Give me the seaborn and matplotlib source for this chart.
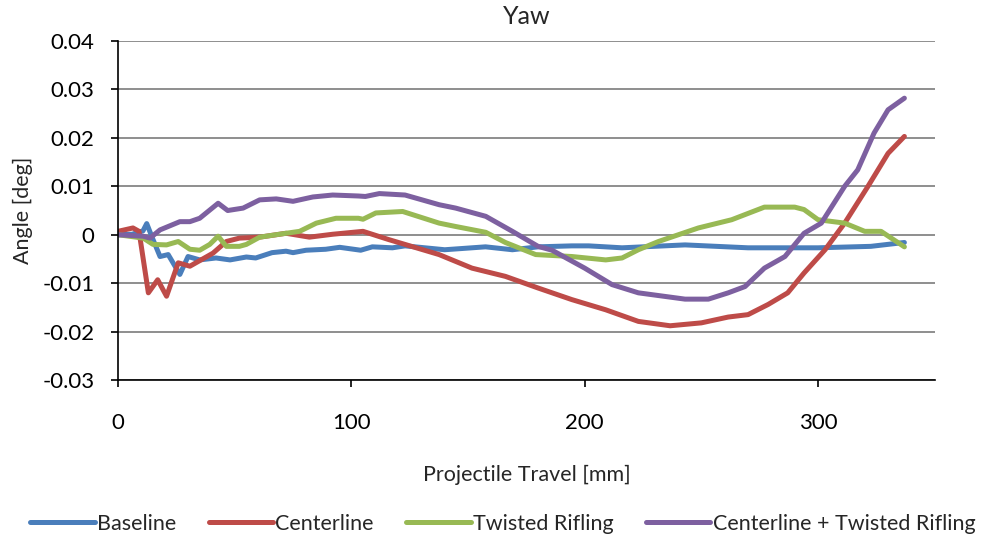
import matplotlib
matplotlib.use("Agg")
import matplotlib.pyplot as plt
import seaborn as sns
import pandas as pd

base_x = [0, 6, 10.7, 12.3, 15, 18, 21.5, 26.5, 30, 35, 42, 48, 55, 59, 66, 72, 75, 80.6, 89, 95, 104, 109, 117.6, 123, 140, 157.5, 169, 180, 194.5, 201.7, 216, 243, 270, 300, 322.6, 337]
base_y = [0, 0.0001, 0.0008, 0.0023, -0.001, -0.0045, -0.0041, -0.0082, -0.0045, -0.0052, -0.0048, -0.0052, -0.0046, -0.0048, -0.0037, -0.0034, -0.0037, -0.0032, -0.003, -0.0026, -0.0032, -0.0025, -0.0027, -0.0023, -0.0031, -0.0025, -0.0031, -0.0025, -0.0023, -0.0023, -0.0027, -0.0021, -0.0027, -0.0027, -0.0024, -0.0016]

cent_x = [0, 6.4, 9, 13, 17, 20.8, 25.8, 30.8, 40.7, 46.4, 52, 60.7, 72, 82, 92, 105, 116, 137.6, 151.7, 166, 180, 194.5, 209, 223, 236.6, 250, 261.5, 270, 278.6, 287, 294, 303, 311.4, 321.4, 330, 337]
cent_y = [0.0007, 0.0014, 0.0007, -0.012, -0.0093, -0.0127, -0.0058, -0.0065, -0.0038, -0.0014, -0.0007, -0.0005, 0.0003, -0.0005, 0.0001, 0.0007, -0.001, -0.0041, -0.0069, -0.0086, -0.011, -0.0134, -0.0155, -0.0179, -0.0188, -0.0182, -0.017, -0.0165, -0.0144, -0.012, -0.0079, -0.0031, 0.0024, 0.01, 0.0168, 0.0203]

twist_x = [0, 10.8, 15, 20.8, 25.8, 30.8, 35, 39.3, 42.9, 46.4, 52, 55, 60.7, 72, 77.8, 85, 93.4, 103, 105, 110.5, 122, 137.6, 144.7, 157.6, 166, 179, 194.5, 209, 216, 223, 231.6, 248.7, 263, 277, 290, 294, 300, 311.4, 320, 327, 337]
twist_y = [0, -0.0007, -0.002, -0.0021, -0.0014, -0.003, -0.0032, -0.002, -0.0003, -0.0024, -0.0024, -0.002, -0.0005, 0.0003, 0.0007, 0.0024, 0.0034, 0.0034, 0.0032, 0.0045, 0.0048, 0.0024, 0.0017, 0.0005, -0.0016, -0.0041, -0.0045, -0.0052, -0.0048, -0.0031, -0.0014, 0.0014, 0.0031, 0.0057, 0.0057, 0.0052, 0.0031, 0.0024, 0.0007, 0.0007, -0.0025]

ctw_x = [0, 10.8, 13.7, 18, 21.5, 26.5, 30.8, 35, 42.9, 47, 53.6, 60.7, 67.8, 75, 83.5, 92, 103, 106, 112, 123, 137.6, 144.7, 157.6, 169, 180, 186, 200, 211.7, 223, 243, 253, 261.5, 268.7, 277, 285.8, 294, 301.4, 311.4, 317, 324, 330, 337]
ctw_y = [0, -0.0003, -0.0007, 0.001, 0.0017, 0.0027, 0.0027, 0.0034, 0.0065, 0.005, 0.0055, 0.0072, 0.0074, 0.0069, 0.0078, 0.0082, 0.008, 0.0079, 0.0085, 0.0082, 0.0062, 0.0055, 0.0038, 0.0007, -0.0024, -0.0032, -0.0069, -0.0103, -0.012, -0.0133, -0.0133, -0.012, -0.0107, -0.0069, -0.0045, 0.0003, 0.0024, 0.01, 0.0134, 0.021, 0.0258, 0.0282]

series = ["Baseline", "Centerline", "Twisted Rifling", "Centerline + Twisted Rifling"]
colors = ["#4A7EBB", "#BE4B48", "#98B954", "#7D60A0"]

frames = []
for name, xs, ys in zip(series, [base_x, cent_x, twist_x, ctw_x], [base_y, cent_y, twist_y, ctw_y]):
    frames.append(pd.DataFrame({"x": xs, "y": ys, "Series": name}))
df = pd.concat(frames, ignore_index=True)

sns.set_theme(style="white")
plt.rcParams['font.family'] = ['Lato', 'DejaVu Sans']

fig = plt.figure(figsize=(9.86, 5.4), dpi=100)
ax = fig.add_axes([0.1197, 0.2963, 0.8283, 0.6277])

sns.lineplot(data=df, x="x", y="y", hue="Series", hue_order=series, palette=colors,
             sort=False, estimator=None, linewidth=3.6, ax=ax, legend=False,
             solid_joinstyle="round", solid_capstyle="round")

ax.set_xlim(0, 350)
ax.set_ylim(-0.03, 0.04)
ax.set_xticks([0, 100, 200, 300])
ax.set_yticks([-0.03, -0.02, -0.01, 0, 0.01, 0.02, 0.03, 0.04])
ax.set_yticklabels(["-0.03", "-0.02", "-0.01", "0", "0.01", "0.02", "0.03", "0.04"])
ax.yaxis.grid(True, color="#868686", linewidth=1.3)
ax.set_axisbelow(True)
for s in ["top", "right"]:
    ax.spines[s].set_visible(False)
for s in ["left", "bottom"]:
    ax.spines[s].set_color("black")
    ax.spines[s].set_linewidth(1.2)
ax.tick_params(axis="both", which="both", direction="out", length=5, width=1.2, colors="black",
               labelsize=16, left=True, bottom=True)
ax.tick_params(axis="y", pad=12)
ax.tick_params(axis="x", pad=19)
ax.set_xlabel("Projectile Travel [mm]", fontsize=15.5, labelpad=23)
ax.set_ylabel("Angle [deg]", fontsize=15.5, labelpad=7)
ax.set_title("Yaw", fontsize=18, pad=12)

handles = [plt.Line2D([], [], color=c, linewidth=3.6) for c in colors]
fig.legend(handles, series, loc="center", bbox_to_anchor=(0.51, 0.03), ncol=4, frameon=False,
           fontsize=15.5, handlelength=3.0, handletextpad=0.1, columnspacing=1.5)

fig.savefig("out.png", dpi=100)
